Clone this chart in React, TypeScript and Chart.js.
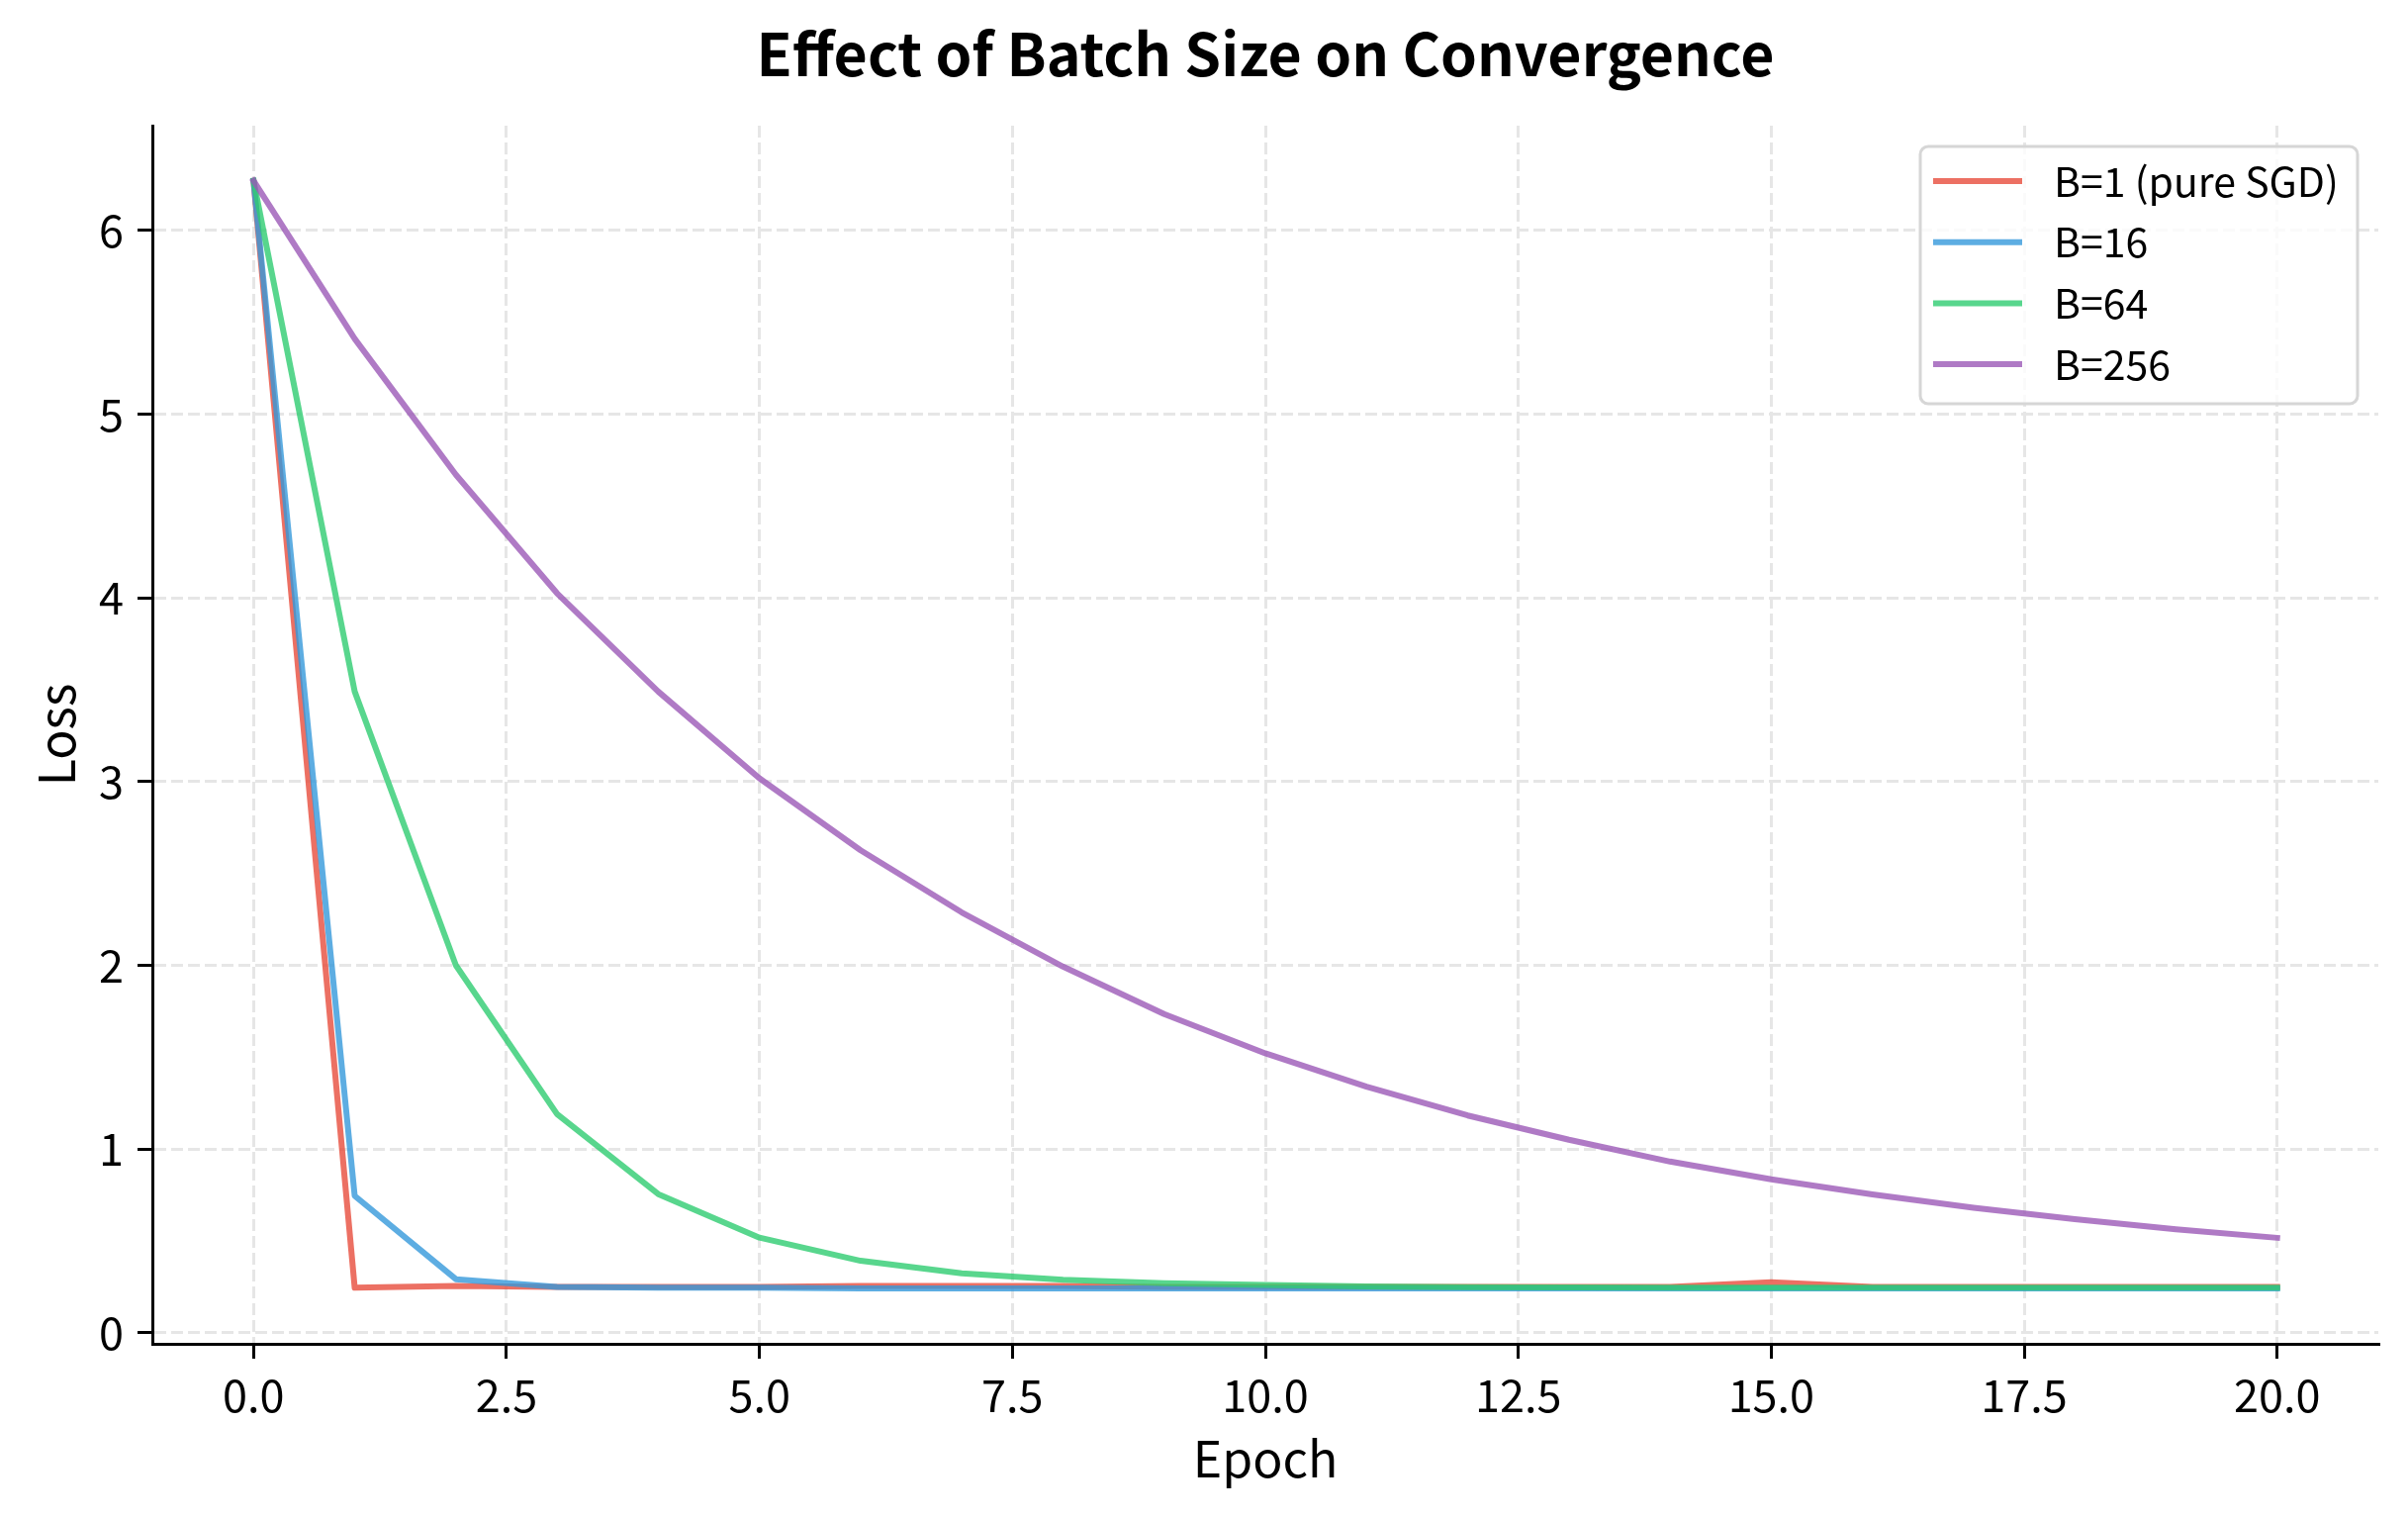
import { useEffect, useRef } from 'react';
import { Chart, registerables, type Plugin } from 'chart.js';

Chart.register(...registerables);

const WIDTH = 2434;
const HEIGHT = 1534;
const FONT = "'Noto Sans CJK SC', 'Noto Sans', sans-serif";
const TITLE = 'Effect of Batch Size on Convergence';

// ── Data ─────────────────────────────────────────────────────────────────────

const epochs = [0, 1, 2, 3, 4, 5, 6, 7, 8, 9, 10, 11, 12, 13, 14, 15, 16, 17, 18, 19, 20];

const lossB1 = [6.27, 0.245, 0.255, 0.25, 0.25, 0.25, 0.255, 0.255, 0.255, 0.25, 0.25, 0.25, 0.25, 0.25, 0.25, 0.275, 0.25, 0.25, 0.25, 0.25, 0.25];
const lossB16 = [6.27, 0.745, 0.292, 0.25, 0.245, 0.245, 0.242, 0.242, 0.242, 0.242, 0.242, 0.242, 0.242, 0.242, 0.242, 0.242, 0.242, 0.242, 0.242, 0.242, 0.242];
const lossB64 = [6.27, 3.49, 2.0, 1.19, 0.755, 0.518, 0.392, 0.324, 0.289, 0.27, 0.26, 0.253, 0.249, 0.247, 0.246, 0.245, 0.245, 0.245, 0.245, 0.245, 0.245];
const lossB256 = [6.27, 5.41, 4.67, 4.025, 3.49, 3.018, 2.626, 2.288, 1.993, 1.735, 1.521, 1.34, 1.183, 1.051, 0.932, 0.835, 0.753, 0.681, 0.619, 0.564, 0.517];

const seriesLabels = ['B=1 (pure SGD)', 'B=16', 'B=64', 'B=256'];
const seriesValues = [lossB1, lossB16, lossB64, lossB256];
const seriesColors = [
  'rgba(231,76,60,0.8)',
  'rgba(52,152,219,0.8)',
  'rgba(46,204,113,0.8)',
  'rgba(155,89,182,0.8)',
];

// ── Title centred over the plot area, legend inside it (upper right) ─────────

const plotTitle: Plugin<'line'> = {
  id: 'plotTitle',
  afterDraw(chart) {
    const { ctx, chartArea } = chart;
    ctx.save();
    ctx.font = `bold 59px ${FONT}`;
    ctx.fillStyle = '#000';
    ctx.textAlign = 'center';
    ctx.textBaseline = 'middle';
    ctx.fillText(TITLE, (chartArea.left + chartArea.right) / 2, 55);
    ctx.restore();
  },
};

const insideLegend: Plugin<'line'> = {
  id: 'insideLegend',
  afterDraw(chart) {
    const { ctx, chartArea } = chart;
    const boxW = 442;
    const boxH = 260;
    const x = chartArea.right - 21 - boxW;
    const y = chartArea.top + 21;

    ctx.save();
    ctx.beginPath();
    ctx.roundRect(x, y, boxW, boxH, 8);
    ctx.fillStyle = 'rgba(255,255,255,0.8)';
    ctx.fill();
    ctx.lineWidth = 3;
    ctx.strokeStyle = '#d6d6d6';
    ctx.stroke();

    ctx.font = `41px ${FONT}`;
    ctx.textBaseline = 'middle';
    ctx.textAlign = 'left';
    chart.data.datasets.forEach((ds, i) => {
      const rowY = y + 35 + i * 61.7;
      ctx.beginPath();
      ctx.moveTo(x + 13, rowY);
      ctx.lineTo(x + 103, rowY);
      ctx.lineWidth = 6;
      ctx.lineCap = 'butt';
      ctx.strokeStyle = ds.borderColor as string;
      ctx.stroke();
      ctx.fillStyle = '#000';
      ctx.fillText(String(ds.label), x + 135, rowY);
    });
    ctx.restore();
  },
};

export default function App() {
  const canvasRef = useRef<HTMLCanvasElement>(null);

  useEffect(() => {
    if (!canvasRef.current) return;

    const gridColor = '#e6e6e6';
    const tickFont = { family: FONT, size: 45 };
    const titleFont = { family: FONT, size: 50 };

    const chart = new Chart(canvasRef.current, {
      type: 'line',
      data: {
        datasets: seriesValues.map((vals, i) => ({
          label: seriesLabels[i],
          data: epochs.map((e, j) => ({ x: e, y: vals[j] })),
          borderColor: seriesColors[i],
          backgroundColor: seriesColors[i],
          borderWidth: 6,
          borderJoinStyle: 'round' as const,
          borderCapStyle: 'square' as const,
          pointRadius: 0,
          tension: 0,
          fill: false,
          order: seriesValues.length - i,
        })),
      },
      options: {
        responsive: false,
        animation: false,
        devicePixelRatio: 1,
        layout: { padding: { left: 0, right: 30, top: 127, bottom: 0 } },
        plugins: {
          legend: { display: false },
          tooltip: { enabled: false },
          title: { display: false },
        },
        scales: {
          x: {
            type: 'linear',
            min: -1,
            max: 21,
            afterFit: (scale) => { scale.height = 176; },
            grid: {
              color: gridColor,
              lineWidth: 3,
              tickLength: 15,
              tickColor: '#000',
              tickWidth: 3,
              tickBorderDash: [],
            },
            border: { display: true, color: '#000', width: 3, dash: [12, 5] },
            ticks: {
              stepSize: 2.5,
              includeBounds: false,
              autoSkip: false,
              maxRotation: 0,
              color: '#000',
              font: tickFont,
              padding: 10,
              callback: (v) => Number(v).toFixed(1),
            },
            title: {
              display: true,
              text: 'Epoch',
              color: '#000',
              font: titleFont,
              padding: { top: 0, bottom: 30.5 },
            },
          },
          y: {
            type: 'linear',
            min: -0.06,
            max: 6.57,
            afterFit: (scale) => { scale.width = 154; },
            grid: {
              color: gridColor,
              lineWidth: 3,
              tickLength: 15,
              tickColor: '#000',
              tickWidth: 3,
              tickBorderDash: [],
            },
            border: { display: true, color: '#000', width: 3, dash: [12, 5] },
            ticks: {
              stepSize: 1,
              includeBounds: false,
              autoSkip: false,
              color: '#000',
              font: tickFont,
              padding: 14,
              callback: (v) => String(Math.round(Number(v))),
            },
            title: {
              display: true,
              text: 'Loss',
              color: '#000',
              font: titleFont,
              padding: { top: 27, bottom: 0 },
            },
          },
        },
      },
      plugins: [plotTitle, insideLegend],
    });

    return () => { chart.destroy(); };
  }, []);

  return (
    <div style={{ position: 'absolute', left: 0, top: 0, width: WIDTH, height: HEIGHT, background: '#fff' }}>
      <canvas ref={canvasRef} width={WIDTH} height={HEIGHT} style={{ display: 'block', width: WIDTH, height: HEIGHT }} />
    </div>
  );
}
